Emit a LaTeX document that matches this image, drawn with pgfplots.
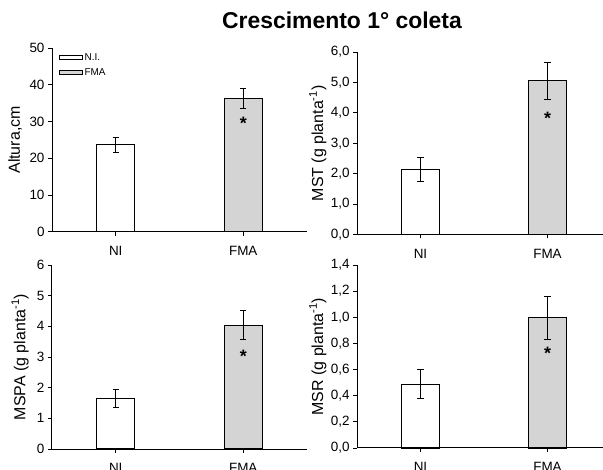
\documentclass[border=0pt]{standalone}
\usepackage{fontspec}
\setmainfont{Liberation Sans}
\usepackage{pgfplots}
\pgfplotsset{compat=1.18}
\definecolor{fmagray}{RGB}{212,212,212}
\tikzset{
  star/.style={font=\bfseries\fontsize{18}{18}\selectfont, anchor=base, yshift=-10bp, inner sep=0pt},
}
\pgfplotsset{
  panel/.style={
    scale only axis,
    anchor=south west,
    axis x line=bottom, axis y line=left,
    axis line style={-, line width=1bp, black},
    tick align=outside,
    major tick length=4bp,
    tick style={line width=0.9bp, black},
    xmin=0.5, xmax=2.5, ymin=0,
    xtick={1,2}, xticklabels={NI,FMA},
    tick label style={font=\fontsize{13.5}{15}\selectfont},
    xticklabel style={yshift=-7bp},
    /pgf/number format/assume math mode=true,
    ylabel style={font=\fontsize{16}{18}\selectfont, anchor=center},
    ybar, bar width=38bp, bar shift=0pt,
    clip=false,
    every axis plot/.append style={line width=1.1bp, draw=black},
    error bars/y dir=both, error bars/y explicit,
    error bars/error bar style={line width=1bp, black},
    error bars/error mark options={rotate=90, mark size=3.2bp, line width=1bp, black},
  },
  ni/.style={fill=white, draw=black},
  fma/.style={fill=fmagray, draw=black},
}
\begin{document}
\begin{tikzpicture}
\useasboundingbox (0,0) rectangle (603bp,470bp);
\node[font=\bfseries\fontsize{23}{26}\selectfont, anchor=base] at (342bp,441bp) {Crescimento 1° coleta};

% top-left
\begin{axis}[panel, at={(52bp,238.3bp)}, width=255bp, height=183.5bp,
  ymax=50, ytick={0,10,20,30,40,50},
  ylabel={Altura,cm}, ylabel style={at={(axis description cs:-0.145,0.5)}},
  legend style={draw=none, fill=none, at={(axis description cs:0.025,0.985)}, anchor=north west,
    font=\fontsize{10}{11}\selectfont, row sep=3bp, inner sep=0pt},
  legend cell align=left,
  legend image code/.code={\draw[#1, line width=1bp] (0bp,-2.2bp) rectangle (23bp,2.2bp);},
]
\addplot[ni] coordinates {(1,23.7) +- (0,2.0)};
\addplot[fma] coordinates {(2,36.3) +- (0,2.6)};
\node[star] at (axis cs:2,30.5) {*};
\legend{N.I.,FMA}
\end{axis}

% top-right
\begin{axis}[panel, at={(357bp,235.5bp)}, width=254bp, height=182.5bp,
  ymax=6, ytick={0,1,2,3,4,5,6},
  yticklabel style={/pgf/number format/.cd, fixed, fixed zerofill, precision=1, use comma},
  ylabel={MST (g planta\textsuperscript{-1})}, ylabel style={at={(axis description cs:-0.154,0.5)}},
]
\addplot[ni] coordinates {(1,2.13) +- (0,0.40)};
\addplot[fma] coordinates {(2,5.05) +- (0,0.60)};
\node[star] at (axis cs:2,3.94) {*};
\end{axis}

% bottom-left
\begin{axis}[panel, at={(52bp,21bp)}, width=255bp, height=184bp,
  ymax=6, ytick={0,1,2,3,4,5,6},
  ylabel={MSPA (g planta\textsuperscript{-1})}, ylabel style={at={(axis description cs:-0.125,0.5)}},
]
\addplot[ni] coordinates {(1,1.65) +- (0,0.30)};
\addplot[fma] coordinates {(2,4.03) +- (0,0.47)};
\node[star] at (axis cs:2,3.15) {*};
\end{axis}

% bottom-right
\begin{axis}[panel, at={(357bp,22bp)}, width=254bp, height=183bp,
  ymax=1.4, ytick={0,0.2,0.4,0.6,0.8,1.0,1.2,1.4},
  yticklabel style={/pgf/number format/.cd, fixed, fixed zerofill, precision=1, use comma},
  ylabel={MSR (g planta\textsuperscript{-1})}, ylabel style={at={(axis description cs:-0.154,0.5)}},
]
\addplot[ni] coordinates {(1,0.487) +- (0,0.11)};
\addplot[fma] coordinates {(2,0.997) +- (0,0.165)};
\node[star] at (axis cs:2,0.757) {*};
\end{axis}
\end{tikzpicture}
\end{document}
